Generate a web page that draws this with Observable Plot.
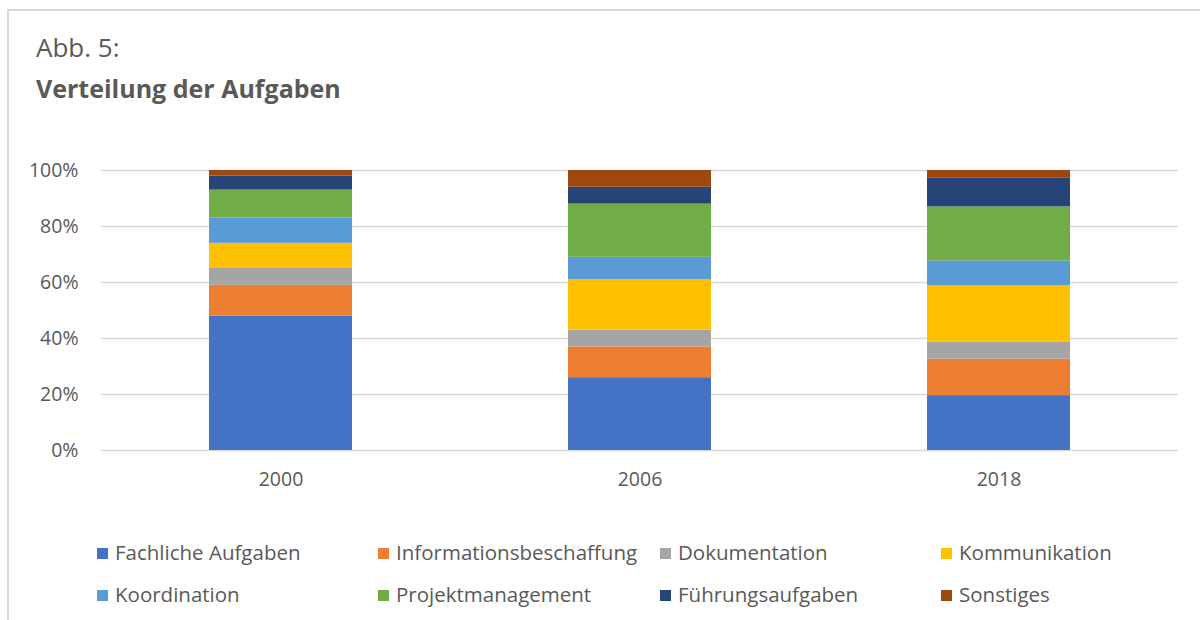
<!DOCTYPE html>
<html>
<head>
<meta charset="utf-8">
<script src="https://cdn.jsdelivr.net/npm/d3@7"></script>
<script src="https://cdn.jsdelivr.net/npm/@observablehq/plot@0.6"></script>
<style>
  html, body { margin: 0; padding: 0; background: #fff; }
  #wrap { position: relative; width: 1200px; height: 620px; overflow: hidden; font-family: "Open Sans", Lato, sans-serif; color: #595959; }
  #frame { position: absolute; left: 7px; top: 9px; width: 1300px; height: 700px; border: 2px solid #d9d9d9; box-sizing: border-box; }
  #t1 { position: absolute; left: 36px; top: 29px; font-size: 26px; }
  #t2 { position: absolute; left: 36px; top: 71px; font-size: 25px; font-weight: bold; }
  #chart { position: absolute; left: 0; top: 150px; }
  .lg { position: absolute; font-size: 20.5px; line-height: 22px; white-space: nowrap; }
  .sw { display: inline-block; width: 11px; height: 11px; margin-right: 7px; vertical-align: 1px; }
</style>
</head>
<body>
<div id="wrap">
  <div id="frame"></div>
  <div id="t1">Abb. 5:</div>
  <div id="t2">Verteilung der Aufgaben</div>
  <div id="chart"></div>
  <div id="legend"></div>
</div>
<script>
const years = ["2000", "2006", "2018"];
const categories = ["Fachliche Aufgaben", "Informationsbeschaffung", "Dokumentation", "Kommunikation", "Koordination", "Projektmanagement", "Führungsaufgaben", "Sonstiges"];
const colors = ["#4472C4", "#ED7D31", "#A5A5A5", "#FFC000", "#5B9BD5", "#70AD47", "#264478", "#9E480E"];
const v2000 = [48, 11, 6, 9, 9, 10, 5, 2];
const v2006 = [26, 11, 6, 18, 8, 19, 6, 6];
const v2018 = [19.6, 13, 6.2, 20, 8.9, 19.3, 10.4, 2.6];
const yTicks = [0, 20, 40, 60, 80, 100];

const series = [v2000, v2006, v2018];
const data = [];
years.forEach((y, i) => categories.forEach((c, j) => data.push({year: y, cat: c, value: series[i][j]})));

const chart = Plot.plot({
  width: 1200,
  height: 375,
  marginTop: 20,
  marginBottom: 75,
  marginLeft: 101,
  marginRight: 22,
  style: {fontFamily: "'Open Sans', Lato, sans-serif", fontSize: "19.5px", color: "#595959", background: "transparent"},
  x: {domain: years, paddingInner: 0.602, paddingOuter: 0.301, label: null},
  y: {domain: [0, 100], label: null},
  color: {domain: categories, range: colors},
  marks: [
    Plot.ruleY(yTicks, {stroke: "#d9d9d9", strokeWidth: 1.5}),
    Plot.barY(data, {x: "year", y: "value", fill: "cat", order: categories}),
    Plot.axisY({ticks: yTicks, tickFormat: d => d + "%", tickSize: 0, tickPadding: 23, fill: "#595959", label: null}),
    Plot.axisX({tickSize: 0, tickPadding: 22, fill: "#595959", label: null})
  ]
});
document.getElementById("chart").appendChild(chart);

const lg = document.getElementById("legend");
const colX = [97, 378, 660, 941];
const rowY = [541, 583];
categories.forEach((c, i) => {
  const d = document.createElement("div");
  d.className = "lg";
  d.style.left = colX[i % 4] + "px";
  d.style.top = rowY[Math.floor(i / 4)] + "px";
  d.innerHTML = `<span class="sw" style="background:${colors[i]}"></span>${c}`;
  lg.appendChild(d);
});
</script>
</body>
</html>
